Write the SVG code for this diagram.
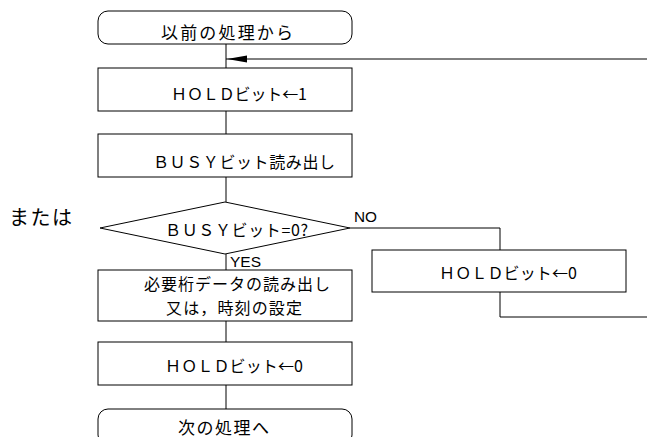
<svg xmlns="http://www.w3.org/2000/svg" width="647" height="437" viewBox="0 0 647 437">
<style>
.s{fill:#fff;stroke:#000;stroke-width:1}
.c{fill:none;stroke:#000;stroke-width:1}
.t{font-family:"Noto Sans CJK JP","Noto Sans",sans-serif;font-size:16px;fill:#000;dominant-baseline:central}
.big{font-size:17px}
.note{font-size:20px}
.l{font-family:"Liberation Sans",Arial,sans-serif;font-size:14px;fill:#000}
</style>
<rect width="647" height="437" fill="#fff"/>
<g id="connectors">
<path class="c" d="M226,44V68M226,111V134M226,177V202M226,254V270M226,321V342M226,385V409"/>
<path class="c" d="M226,59H647"/>
<polygon points="227,59 247,55.5 247,62.5" fill="#000"/>
<path class="c" d="M350,228H500V250M500,292V317H647"/>
<text class="l" x="354" y="222" textLength="23" lengthAdjust="spacingAndGlyphs">NO</text>
<text class="l" x="230" y="267" textLength="31" lengthAdjust="spacingAndGlyphs">YES</text>
</g>
<g id="start">
<rect class="s" x="98" y="11" width="254" height="33" rx="10"/>
<text class="t big" x="161" y="31" textLength="132" lengthAdjust="spacing">以前の処理から</text>
</g>
<g id="hold1">
<rect class="s" x="98" y="68" width="254" height="43"/>
<text class="t" x="171" y="93" textLength="136" lengthAdjust="spacing">ＨＯＬＤビット←1</text>
</g>
<g id="busyread">
<rect class="s" x="98" y="134" width="254" height="43"/>
<text class="t" x="153" y="161" textLength="182" lengthAdjust="spacing">ＢＵＳＹビット読み出し</text>
</g>
<g id="decision">
<polygon class="s" points="225,202 350,228 225,254 100,228"/>
<text class="t" x="165" y="229" textLength="143" lengthAdjust="spacing">ＢＵＳＹビット=0?</text>
</g>
<g id="readset">
<rect class="s" x="98" y="270" width="254" height="51"/>
<text class="t" x="144" y="283" textLength="186" lengthAdjust="spacing">必要桁データの読み出し</text>
<text class="t" x="166" y="307" textLength="136" lengthAdjust="spacing">又は，時刻の設定</text>
</g>
<g id="hold0">
<rect class="s" x="98" y="342" width="254" height="43"/>
<text class="t" x="165" y="365" textLength="138" lengthAdjust="spacing">ＨＯＬＤビット←0</text>
</g>
<g id="hold0r">
<rect class="s" x="372" y="250" width="254" height="42"/>
<text class="t" x="439" y="272" textLength="138" lengthAdjust="spacing">ＨＯＬＤビット←0</text>
</g>
<g id="end">
<rect class="s" x="98" y="409" width="254" height="36" rx="10"/>
<text class="t big" x="178" y="426" textLength="91" lengthAdjust="spacing">次の処理へ</text>
</g>
<g id="note">
<text class="t note" x="9" y="216" textLength="63" lengthAdjust="spacing">または</text>
</g>
</svg>
